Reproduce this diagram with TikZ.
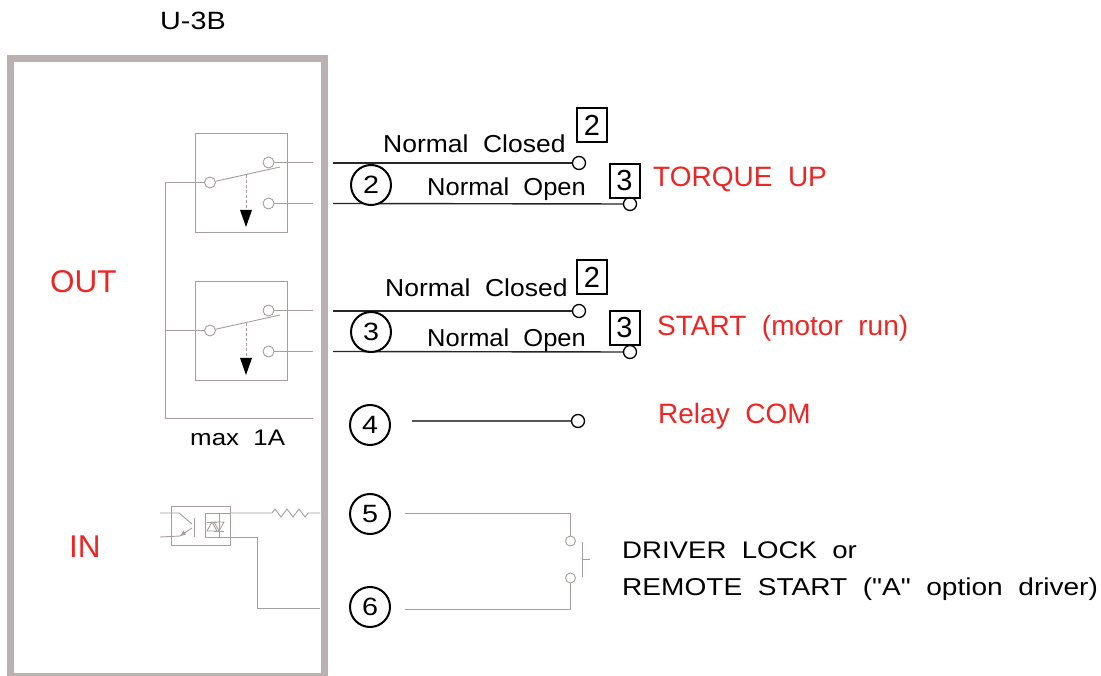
\documentclass[tikz,border=0pt]{standalone}
\usepackage{fontspec}
\setmainfont{Liberation Sans}
\newfontfamily\wide[FakeStretch=1.15]{Liberation Sans}
\newfontfamily\wideN[FakeStretch=1.08]{Liberation Sans}
\newfontfamily\wideO[FakeStretch=1.04]{Liberation Sans}
\usetikzlibrary{arrows.meta}
\definecolor{boxgray}{RGB}{185,178,176}
\definecolor{wiregray}{RGB}{165,158,156}
\definecolor{redc}{RGB}{236,38,36}
\definecolor{darkw}{RGB}{85,85,85}
\begin{document}
\begin{tikzpicture}[x=1pt,y=-1pt,
  thinwire/.style={draw=wiregray, line width=0.9pt},
  blkwire/.style={draw=black!85, line width=1.4pt},
  darkwire/.style={draw=darkw, line width=1.4pt},
  contact/.style={circle, draw=wiregray, line width=0.9pt, fill=white, minimum size=11pt, inner sep=0},
  bcontact/.style={circle, draw=black, line width=1.3pt, fill=white, minimum size=13pt, inner sep=0},
  term/.style={circle, draw=black, line width=2pt, minimum size=40pt, inner sep=0, font=\wide\fontsize{25}{28}\selectfont},
  numbox/.style={draw=black, line width=2pt, minimum width=30pt, minimum height=34pt, inner sep=0, font=\fontsize{29}{30}\selectfont},
  lbl/.style={inner sep=0, anchor=base west, font=\wide\fontsize{24}{28}\selectfont},
  nlbl/.style={inner sep=0, anchor=base west, font=\wideN\fontsize{24.5}{28}\selectfont},
  olbl/.style={inner sep=0, anchor=base west, font=\wideO\fontsize{24.5}{28}\selectfont},
  redlbl/.style={inner sep=0, anchor=base west, text=redc, font=\fontsize{28}{30}\selectfont},
  biglbl/.style={inner sep=0, anchor=base west, text=redc, font=\fontsize{31.5}{32}\selectfont},
]
\useasboundingbox (0,0) rectangle (1101,676);
\fill[white] (0,0) rectangle (1101,676);

% unit outline
\draw[draw=boxgray, line width=7pt] (10,58.3) rectangle (324.7,676);
\node[lbl, font=\wide\fontsize{25}{28}\selectfont] (title) at (160,30) {U-3B};
\node[biglbl] (out) at (50,293) {OUT};
\node[biglbl] (in) at (69,557) {IN};

% relays
\foreach \i/\dy in {1/0,2/148}{
  \begin{scope}[shift={(0,\dy)}]
    \draw[thinwire] (195,133) rectangle (287,232);
    \node[contact] (c\i) at (210,182.5) {};
    \node[contact] (nc\i) at (268.5,162.5) {};
    \node[contact] (no\i) at (268.5,203.5) {};
    \coordinate (lev\i) at (280,167);
    \draw[thinwire] (c\i) -- (lev\i);
    \coordinate (ncw\i) at (313,162.5);
    \coordinate (now\i) at (313,203.5);
    \draw[thinwire] (nc\i) -- (ncw\i);
    \draw[thinwire] (no\i) -- (now\i);
    \draw[thinwire, dashed, dash pattern=on 3pt off 2pt] (246,175) -- (246,211);
    \fill[black] (240,210) -- (252,210) -- (246,227) -- cycle;
    \coordinate (cw\i) at (165,182.5);
    \draw[thinwire] (c\i) -- (cw\i);
    % outside wires
    \node[bcontact] (NC\i) at (579,163) {};
    \node[bcontact] (NO\i) at (630,204) {};
    \coordinate (ncs\i) at (333,163);
    \coordinate (nos\i) at (333,203.5);
    \draw[blkwire] (ncs\i) -- (NC\i);
    \draw[blkwire] (nos\i) -- (NO\i);
  \end{scope}
}
\coordinate (comb) at (165,418);
\coordinate (come) at (313,418);
\draw[thinwire] (cw1) -- (comb) -- (come);
\node[lbl, font=\wide\fontsize{22.5}{26}\selectfont] (max) at (190,446) {max~~1A};

% relay 1 labels
\node[nlbl] (ncl1) at (383,153) {Normal~~Closed};
\node[olbl] (nol1) at (427,196) {Normal~~Open};
\node[numbox] (b21) at (592,125) {2};
\node[numbox] (b31) at (624.5,181) {3};
\node[redlbl] (tq) at (653,187) {TORQUE~~UP};
% relay 2 labels
\node[nlbl] (ncl2) at (385,297) {Normal~~Closed};
\node[olbl] (nol2) at (427,347) {Normal~~Open};
\node[numbox] (b22) at (592,277.5) {2};
\node[numbox] (b32) at (624.5,328) {3};
\node[redlbl] (st) at (657,336) {START~~(motor~~run)};

% terminals
\node[term, fill=white] (t2) at (371,185) {2};
\node[term, fill=white] (t3) at (371,332) {3};
\node[term] (t4) at (370,425) {4};
\node[term] (t5) at (370,514) {5};
\node[term] (t6) at (370,607) {6};

% relay COM
\node[bcontact] (com) at (578,421) {};
\coordinate (coms) at (412,421);
\draw[darkwire] (coms) -- (com);
\node[redlbl] (rc) at (658,423) {Relay~~COM};

% input: optocoupler
\draw[thinwire] (171,506) rectangle (230,545);
\draw[thinwire] (160,513) -- (179,513) -- (192,524);
\draw[thinwire] (194,518) -- (194,537);
\draw[thinwire] (192,528) -- (180,536) -- (160,537);
\fill[wiregray] (180,536) -- (183.5,530.5) -- (186,534.5) -- cycle;
\draw[thinwire] (205,513) -- (205,537);
\draw[thinwire] (219,513) -- (219,537);
\draw[thinwire] (205,513) -- (230,513);
% diodes
\draw[thinwire] (207,531) -- (217,531) -- (212,522) -- cycle;
\draw[thinwire] (207,522) -- (217,522);
\draw[thinwire] (214,522) -- (224,522) -- (219,531) -- cycle;
\draw[thinwire] (214,531) -- (224,531);
% resistor
\draw[thinwire] (230,513) -- (272,513) -- (275,509) -- (281,517) -- (287,509) -- (293,517) -- (299,509) -- (305,517) -- (308,513) -- (320,513);
% lower line
\draw[thinwire] (205,537) -- (257,537) -- (257,608.5) -- (320,608.5);

% external switch
\node[contact, minimum size=10pt] (sw1) at (570.5,541) {};
\node[contact, minimum size=10pt] (sw2) at (570.5,578) {};
\coordinate (w5s) at (405,513);
\coordinate (w5c) at (570.5,513);
\coordinate (w6s) at (405,609);
\coordinate (w6c) at (570.5,609);
\draw[thinwire] (w5s) -- (w5c) -- (sw1);
\draw[thinwire] (w6s) -- (w6c) -- (sw2);
\draw[thinwire] (582,542) -- (582,577);
\draw[thinwire] (582,559) -- (590,559);
\node[lbl] (dl) at (622,558) {DRIVER~~LOCK~~or};
\node[lbl, font=\wide\fontsize{24.4}{28}\selectfont] (rs) at (622,595) {REMOTE~~START~~("A"~~option~~driver)};
\end{tikzpicture}
\end{document}
